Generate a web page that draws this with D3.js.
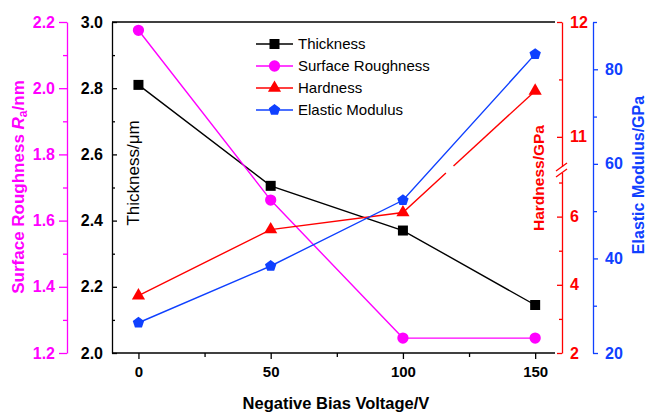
<!DOCTYPE html>
<html>
<head>
<meta charset="utf-8">
<script src="https://cdn.jsdelivr.net/npm/d3@7"></script>
<style>
  body { margin: 0; background: #fff; }
  svg { display: block; font-family: Arial, "Liberation Sans", sans-serif; }
  .axis text { font-weight: bold; font-size: 16px; }
  .axis.xaxis text { font-size: 15px; }
</style>
</head>
<body>
<svg width="649" height="412"></svg>
<script>
// data
var volts = [0, 50, 100, 150];
var thickness = [2.81, 2.505, 2.37, 2.145];
var roughness = [2.175, 1.662, 1.245, 1.245];
var hardness = [3.68, 5.62, 6.12, 11.40];
var modulus = [26.4, 38.4, 52.3, 83.2];

var xTicks = [0, 50, 100, 150], xMinor = [25, 75, 125];
var thickTicks = [2.0, 2.2, 2.4, 2.6, 2.8, 3.0], thickMinor = [2.1, 2.3, 2.5, 2.7, 2.9];
var roughTicks = [1.2, 1.4, 1.6, 1.8, 2.0, 2.2], roughMinor = [1.3, 1.5, 1.7, 1.9, 2.1];
var hardTicks = [2, 4, 6, 11, 12], hardMinor = [3, 5, 7, 11.5];
var modTicks = [20, 40, 60, 80], modMinor = [30, 50, 70, 90];
var hardBreak = [7.25, 10.72];

var names = ["Thickness", "Surface Roughness", "Hardness", "Elastic Modulus"];
var colors = ["#000000", "#ff00ff", "#ff0000", "#0f40ff"];

var svg = d3.select("svg");
var pLeft = 112, pRight = 555, pTop = 22, pBottom = 353;

var x = d3.scaleLinear().domain([-10, 157.5]).range([pLeft, pRight]);
var yThick = d3.scaleLinear().domain([2, 3]).range([pBottom, pTop]);
var yRough = d3.scaleLinear().domain([1.2, 2.2]).range([pBottom, pTop]);
// broken axis: piecewise scale
var yHard = d3.scaleLinear().domain([2, hardBreak[0], hardBreak[1], 12]).range([pBottom, 174, 169, pTop]);
var yMod = d3.scaleLinear().domain([20, 90]).range([pBottom, pTop]);

function styleAxis(g, color) {
  g.attr("class", "axis");
  g.selectAll("path, line").attr("stroke", color).attr("stroke-width", 1.3);
  g.selectAll("text").attr("fill", color).style("font-family", "Arial, 'Liberation Sans', sans-serif");
}

// x axis
var gx = svg.append("g").attr("transform", "translate(0," + pBottom + ")")
  .call(d3.axisBottom(x).tickValues(xTicks).tickSize(6).tickSizeOuter(0).tickPadding(7));
styleAxis(gx, "#000");
gx.classed("xaxis", true);
gx.select(".domain").attr("d", "M" + pLeft + ",0H" + pRight);
var gxm = svg.append("g").attr("transform", "translate(0," + pBottom + ")")
  .call(d3.axisBottom(x).tickValues(xMinor).tickSize(4).tickFormat(""));
gxm.select(".domain").remove();
gxm.selectAll("line").attr("stroke", "#000").attr("stroke-width", 1.3);

// top frame line
svg.append("line").attr("x1", pLeft).attr("x2", pRight).attr("y1", pTop).attr("y2", pTop)
  .attr("stroke", "#000").attr("stroke-width", 1.3);

// thickness axis (ticks inward)
var gt = svg.append("g").attr("transform", "translate(" + pLeft + ",0)")
  .call(d3.axisLeft(yThick).tickValues(thickTicks).tickSize(-5).tickSizeOuter(0).tickPadding(9).tickFormat(d3.format(".1f")));
styleAxis(gt, "#000");
var gtm = svg.append("g").attr("transform", "translate(" + pLeft + ",0)")
  .call(d3.axisLeft(yThick).tickValues(thickMinor).tickSize(-3).tickFormat(""));
gtm.select(".domain").remove();
gtm.selectAll("line").attr("stroke", "#000").attr("stroke-width", 1.3);

// roughness axis
var rx = 67;
var gr = svg.append("g").attr("transform", "translate(" + rx + ",0)")
  .call(d3.axisLeft(yRough).tickValues(roughTicks).tickSize(8).tickSizeOuter(0).tickPadding(4).tickFormat(d3.format(".1f")));
styleAxis(gr, colors[1]);
var grm = svg.append("g").attr("transform", "translate(" + rx + ",0)")
  .call(d3.axisLeft(yRough).tickValues(roughMinor).tickSize(4).tickFormat(""));
grm.select(".domain").remove();
grm.selectAll("line").attr("stroke", colors[1]).attr("stroke-width", 1.3);

// hardness axis (ticks inward)
var hx = 562;
var gh = svg.append("g").attr("transform", "translate(" + hx + ",0)")
  .call(d3.axisRight(yHard).tickValues(hardTicks).tickSize(-5).tickSizeOuter(0).tickPadding(8));
styleAxis(gh, colors[2]);
var ghm = svg.append("g").attr("transform", "translate(" + hx + ",0)")
  .call(d3.axisRight(yHard).tickValues(hardMinor).tickSize(-3).tickFormat(""));
ghm.select(".domain").remove();
ghm.selectAll("line").attr("stroke", colors[2]).attr("stroke-width", 1.3);
// break marks
var yb1 = yHard(hardBreak[0]) - 1, yb2 = yHard(hardBreak[1]) - 2;
svg.append("rect").attr("x", hx - 2).attr("y", yb2).attr("width", 4).attr("height", yb1 - yb2).attr("fill", "#fff");
[yb1, yb2].forEach(function (yy) {
  svg.append("line").attr("x1", hx - 6).attr("y1", yy + 4).attr("x2", hx + 5).attr("y2", yy - 4)
    .attr("stroke", colors[2]).attr("stroke-width", 1.3);
});

// modulus axis
var mx = 593;
var gm = svg.append("g").attr("transform", "translate(" + mx + ",0)")
  .call(d3.axisRight(yMod).tickValues(modTicks).tickSize(5).tickSizeOuter(0).tickPadding(7));
styleAxis(gm, colors[3]);
var gmm = svg.append("g").attr("transform", "translate(" + mx + ",0)")
  .call(d3.axisRight(yMod).tickValues(modMinor).tickSize(4).tickFormat(""));
gmm.select(".domain").remove();
gmm.selectAll("line").attr("stroke", colors[3]).attr("stroke-width", 1.3);

// pentagon symbol
var pentagon = {
  draw: function (ctx, size) {
    var r = Math.sqrt(size / 2.378);
    for (var i = 0; i < 5; i++) {
      var a = -Math.PI / 2 + i * 2 * Math.PI / 5;
      if (i === 0) ctx.moveTo(r * Math.cos(a), r * Math.sin(a));
      else ctx.lineTo(r * Math.cos(a), r * Math.sin(a));
    }
    ctx.closePath();
  }
};
var symbols = [d3.symbolSquare, d3.symbolCircle, d3.symbolTriangle, pentagon];
var sizes = [100, 100, 75, 85];

var series = [
  { vals: thickness, y: yThick },
  { vals: roughness, y: yRough },
  { vals: hardness, y: yHard },
  { vals: modulus, y: yMod }
];

var lineGen = d3.line().x(function (d) { return d[0]; }).y(function (d) { return d[1]; });

series.forEach(function (s, i) {
  var pts = volts.map(function (v, j) { return [x(v), s.y(s.vals[j])]; });
  var pieces = [[pts[0]]];
  if (i === 2) {
    // gap in the line where it crosses the axis break
    var gapLow = yHard(hardBreak[0]) - 1, gapHigh = yHard(hardBreak[1]) - 3;
    for (var j = 1; j < pts.length; j++) {
      var a = pts[j - 1], b = pts[j];
      var va = s.vals[j - 1], vb = s.vals[j];
      if (va < hardBreak[0] && vb > hardBreak[1]) {
        var t1 = (gapLow - a[1]) / (b[1] - a[1]), t2 = (gapHigh - a[1]) / (b[1] - a[1]);
        pieces[pieces.length - 1].push([a[0] + t1 * (b[0] - a[0]), gapLow]);
        pieces.push([[a[0] + t2 * (b[0] - a[0]), gapHigh], b]);
      } else {
        pieces[pieces.length - 1].push(b);
      }
    }
  } else {
    pieces = [pts];
  }
  pieces.forEach(function (p) {
    svg.append("path").attr("d", lineGen(p)).attr("fill", "none")
      .attr("stroke", colors[i]).attr("stroke-width", 1.4);
  });
  svg.append("g").selectAll("path").data(pts).enter().append("path")
    .attr("transform", function (d) { return "translate(" + d[0] + "," + d[1] + ")"; })
    .attr("d", d3.symbol().type(symbols[i]).size(sizes[i]))
    .attr("fill", colors[i]);
});

// legend
var legend = svg.append("g").selectAll("g").data(names).enter().append("g")
  .attr("transform", function (d, i) { return "translate(256," + (44 + i * 22) + ")"; });
legend.append("line").attr("x1", 0).attr("x2", 37).attr("stroke", function (d, i) { return colors[i]; })
  .attr("stroke-width", 1.4);
legend.append("path").attr("transform", "translate(18.5,0)")
  .attr("d", function (d, i) { return d3.symbol().type(symbols[i]).size(sizes[i])(); })
  .attr("fill", function (d, i) { return colors[i]; });
legend.append("text").attr("x", 42).attr("dy", "0.35em").style("font-size", "15px")
  .text(function (d) { return d; });

// axis titles
svg.append("text").attr("x", 336).attr("y", 409).attr("text-anchor", "middle")
  .style("font-weight", "bold").style("font-size", "16.5px").text("Negative Bias Voltage/V");

var rt = svg.append("text").attr("transform", "translate(24,187) rotate(-90)").attr("text-anchor", "middle")
  .style("font-weight", "bold").style("font-size", "17px").attr("fill", colors[1]);
rt.append("tspan").text("Surface Roughness ");
rt.append("tspan").style("font-style", "italic").text("R");
rt.append("tspan").style("font-size", "12px").attr("dy", "3").text("a");
rt.append("tspan").attr("dy", "-3").text("/nm");

svg.append("text").attr("transform", "translate(139,173) rotate(-90)").attr("text-anchor", "middle")
  .style("font-size", "17px").attr("fill", "#000").text("Thickness/\u03bcm");

svg.append("text").attr("transform", "translate(544,178) rotate(-90)").attr("text-anchor", "middle")
  .style("font-weight", "bold").style("font-size", "15.5px").attr("fill", colors[2]).text("Hardness/GPa");

svg.append("text").attr("transform", "translate(644,175) rotate(-90)").attr("text-anchor", "middle")
  .style("font-weight", "bold").style("font-size", "16px").attr("fill", colors[3]).text("Elastic Modulus/GPa");
</script>
</body>
</html>
